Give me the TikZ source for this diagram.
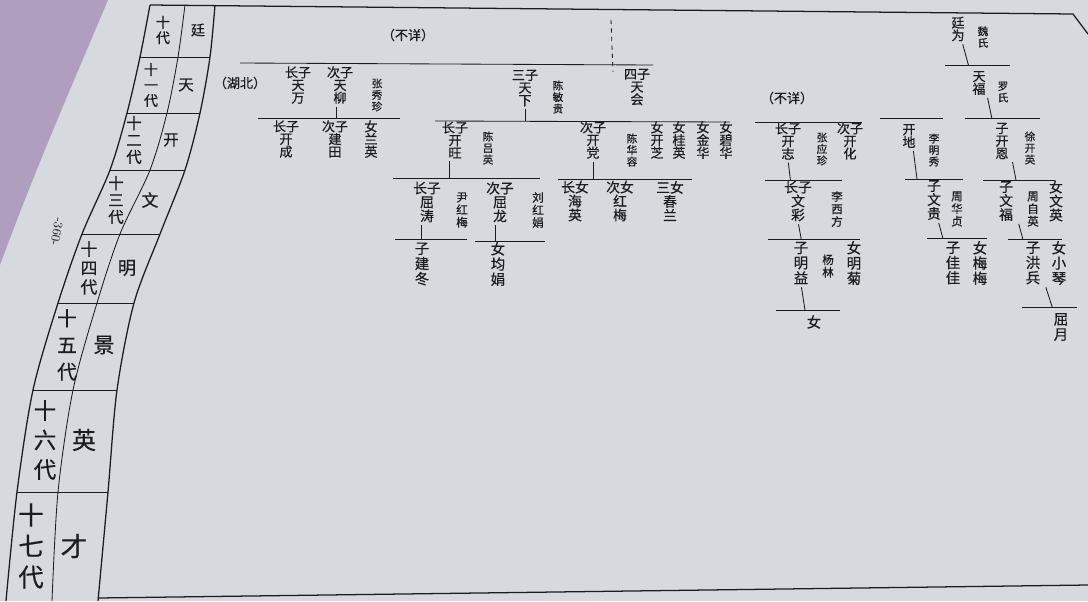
\documentclass[tikz,border=0pt]{standalone}
\usepackage{fontspec}
\newfontfamily\cjk[FakeBold=0.5]{Noto Sans CJK SC}
\usetikzlibrary{positioning, calc}
\definecolor{paper}{RGB}{214,217,221}
\definecolor{cloth}{RGB}{176,158,190}
\definecolor{ink}{RGB}{28,28,30}

\begin{document}
\begin{tikzpicture}[
                x=0.025cm, y=-0.025cm,
                text=ink,
                nm/.style={align=center, inner sep=0pt, font=\cjk\fontsize{9.3}{9}\selectfont},
                nmb/.style={align=center, inner sep=0pt, font=\cjk\fontsize{9.8}{9.9}\selectfont},
                nmc/.style={align=center, inner sep=0pt, font=\cjk\fontsize{10.3}{10.8}\selectfont},
                sp/.style={align=center, inner sep=0pt, font=\cjk\fontsize{7.6}{8.2}\selectfont},
                spb/.style={align=center, inner sep=0pt, font=\cjk\fontsize{8.2}{8.9}\selectfont},
                gen/.style 2 args={align=center, inner sep=0pt, font=\cjk\fontsize{#1}{#2}\selectfont},
                bar/.style={draw=ink, line width=0.6pt},
                tick/.style={draw=ink, line width=0.6pt, shorten <=2pt},
                rule/.style={draw=ink, line width=0.9pt}
            ]

            % Page and background
            \fill[paper] (0,0) rectangle (1088,601);
            \useasboundingbox (0,0) rectangle (1088,601);
            \fill[cloth] (0,0) -- (108,0) .. controls (70,90) and (35,170) .. (0,265) -- cycle;

            % Generation table
            \draw[rule] plot[smooth] coordinates {(150,5) (140,57) (127,113) (110,170) (82,234) (58,303) (33,390) (17,492) (6,601)};
            \draw[bar] plot[smooth] coordinates {(185,5) (178,57) (167,113) (150,170) (120,234) (97,303) (73,390) (58,492) (52,601)};
            \draw[rule] plot[smooth] coordinates {(215,5) (210,57) (200,113) (185,170) (160,234) (134,303) (117,390) (108,492) (98,601)};
            \foreach \xl/\xr/\y in {140/210/57, 127/200/113, 110/185/170, 82/160/234, 58/134/303, 33/117/390, 17/108/492}
                \draw[bar] (\xl,\y) -- (\xr,\y);

            \node[gen={10}{11}] (g10) at (163,30) {十\\代};
            \node[gen={10}{11}] (n10) at (198,30) {廷};
            \node[gen={10}{11}] (g11) at (151,85) {十\\一\\代};
            \node[gen={11}{12}] (n11) at (186,85) {天};
            \node[gen={11}{12}] (g12) at (134,140) {十\\二\\代};
            \node[gen={11}{12}] (n12) at (171,140) {开};
            \node[gen={11}{12}] (g13) at (116,200) {十\\三\\代};
            \node[gen={12}{13}] (n13) at (150,200) {文};
            \node[gen={12}{13.5}] (g14) at (89,268) {十\\四\\代};
            \node[gen={13}{14}] (n14) at (127,268) {明};
            \node[gen={14}{19}] (g15) at (67,345) {十\\五\\代};
            \node[gen={15}{16}] (n15) at (104,345) {景};
            \node[gen={16}{21}] (g16) at (45,440) {十\\六\\代};
            \node[gen={17}{18}] (n16) at (84,440) {英};
            \node[gen={18}{22}] (g17) at (31,546) {十\\七\\代};
            \node[gen={19}{20}] (n17) at (74,546) {才};

            \node[rotate=-100, inner sep=0pt, font=\rmfamily\fontsize{9}{9}\selectfont] (pageno) at (57,232) {-360-};

            % Page rules
            \draw[rule] (150,5) -- (1073,14) -- (1088,34);
            \draw[rule] (98,598) -- (1088,585);

            % Left branch
            \node[nm] (buxiangA) at (408,35) {（不详）};
            \coordinate (top-a) at (611,20);
            \coordinate (top-b) at (613,72);
            \draw[bar, dashed] (top-a) -- (top-b);
            \coordinate (barA-l) at (240,63);
            \coordinate (barA-r) at (653,65);
            \draw[bar] (barA-l) -- (barA-r);

            \node[nm] (hubei) at (240,83) {（湖北）};
            \node[nm] (tianwan) at (298,85) {长子\\天\\万};
            \node[nm] (tianliu) at (340,85) {次子\\天\\柳};
            \node[sp] (zhangxz) at (377,95) {张\\秀\\珍};
            \node[nm] (tianxia) at (525,88) {三子\\天\\下};
            \node[sp] (chenmg) at (558,97) {陈\\敏\\贵};
            \node[nm] (tianhui) at (637,87) {四子\\天\\会};

            \coordinate (barB-l) at (258,118);
            \coordinate (barB-r) at (400,118);
            \draw[bar] (barB-l) -- (barB-r);
            \draw[tick] ([xshift=-1mm]tianliu.south) -- ([xshift=-1mm]tianliu.south |- barB-l);
            \node[nm] (kaicheng) at (286,139) {长子\\开\\成};
            \node[nm] (jiantian) at (335,139) {次子\\建\\田};
            \node[nm] (lanying) at (371,139) {女\\兰\\英};

            \coordinate (barC-l) at (435,121);
            \coordinate (barC-r) at (730,122);
            \draw[bar] (barC-l) -- (barC-r);
            \draw[tick] (tianxia.south) -- (tianxia.south |- barC-l);
            \node[nm] (kaiwang) at (455,140) {长子\\开\\旺};
            \node[sp] (chenly) at (488,148) {陈\\吕\\英};
            \node[nm] (kaidang) at (593,140) {次子\\开\\党};
            \node[sp] (chenhr) at (632,150) {陈\\华\\容};
            \node[nm] (kaizhiD) at (657,140) {女\\开\\芝};
            \node[nm] (guiying) at (679,140) {女\\桂\\英};
            \node[nm] (jinhua) at (703,140) {女\\金\\华};
            \node[nm] (bihua) at (726,140) {女\\碧\\华};

            \coordinate (barD-l) at (393,178);
            \coordinate (barD-r) at (540,178);
            \draw[bar] (barD-l) -- (barD-r);
            \draw[tick] ([xshift=-1.5mm]kaiwang.south) -- ([xshift=-1.5mm]kaiwang.south |- barD-l);
            \node[nmb] (qutao) at (427,202) {长子\\屈\\涛};
            \node[spb] (yinhm) at (462,210) {尹\\红\\梅};
            \node[nmb] (qulong) at (500,202) {次子\\屈\\龙};
            \node[spb] (liuhj) at (538,210) {刘\\红\\娟};

            \coordinate (barE-l) at (558,179);
            \coordinate (barE-r) at (692,179);
            \draw[bar] (barE-l) -- (barE-r);
            \draw[tick] (kaidang.south) -- (kaidang.south |- barE-l);
            \node[nmb] (haiying) at (575,201) {长女\\海\\英};
            \node[nmb] (hongmei) at (620,201) {次女\\红\\梅};
            \node[nmb] (chunlan) at (670,201) {三女\\春\\兰};

            \coordinate (barF-l) at (395,239);
            \coordinate (barF-r) at (467,239);
            \draw[bar] (barF-l) -- (barF-r);
            \draw[tick] ([xshift=-1.5mm]qutao.south) -- ([xshift=-1.5mm]qutao.south |- barF-l);
            \node[nmc] (jiandong) at (422,264) {子\\建\\冬};

            \coordinate (barG-l) at (475,241);
            \coordinate (barG-r) at (545,241);
            \draw[bar] (barG-l) -- (barG-r);
            \draw[tick] ([xshift=-1.2mm]qulong.south) -- ([xshift=-1.2mm]qulong.south |- barG-l);
            \node[nmc] (junjuan) at (498,264) {女\\均\\娟};

            % Right branches
            \node[nm] (buxiangB) at (787,98) {（不详）};
            \coordinate (barH-l) at (755,122);
            \coordinate (barH-r) at (862,122);
            \draw[bar] (barH-l) -- (barH-r);
            \node[nm] (kaizhi) at (788,141) {长子\\开\\志};
            \node[sp] (zhangyz) at (822,149) {张\\应\\珍};
            \node[nm] (kaihua) at (850,141) {次子\\开\\化};

            \coordinate (barI-l) at (765,180);
            \coordinate (barI-r) at (842,180);
            \draw[bar] (barI-l) -- (barI-r);
            \draw[tick] (kaizhi.south) -- ([xshift=0.6mm]kaizhi.south |- barI-l);
            \node[nmb] (wencai) at (798,201) {长子\\文\\彩};
            \node[spb] (lixf) at (837,209) {李\\西\\方};

            \coordinate (barJ-l) at (768,239);
            \coordinate (barJ-r) at (860,239);
            \draw[bar] (barJ-l) -- (barJ-r);
            \draw[tick] (wencai.south) -- ([xshift=0.8mm]wencai.south |- barJ-l);
            \node[nmc] (mingyi) at (801,263) {子\\明\\益};
            \node[spb] (yanglin) at (828,266) {杨\\林};
            \node[nmc] (mingju) at (854,263) {女\\明\\菊};

            \coordinate (barK-l) at (776,310);
            \coordinate (barK-r) at (840,310);
            \draw[bar] (barK-l) -- (barK-r);
            \draw[tick] (mingyi.south) -- ([xshift=1mm]mingyi.south |- barK-l);
            \node[nmc] (nvA) at (814,322) {女};

            \coordinate (barL-l) at (880,118);
            \coordinate (barL-r) at (943,118);
            \draw[bar] (barL-l) -- (barL-r);
            \node[nm] (kaidi) at (909,136) {开\\地};
            \node[sp] (limx) at (934,150) {李\\明\\秀};

            \coordinate (barM-l) at (905,179);
            \coordinate (barM-r) at (963,179);
            \draw[bar] (barM-l) -- (barM-r);
            \draw[tick] ([xshift=1mm]kaidi.south) -- ([xshift=2mm]kaidi.south |- barM-l);
            \node[nmb] (wengui) at (934,200) {子\\文\\贵};
            \node[spb] (zhouhz) at (957,209) {周\\华\\贞};

            \coordinate (barN-l) at (927,238);
            \coordinate (barN-r) at (987,238);
            \draw[bar] (barN-l) -- (barN-r);
            \draw[tick] ([xshift=1mm]wengui.south) -- ([xshift=2.2mm]wengui.south |- barN-l);
            \node[nmc] (jiajia) at (953,263) {子\\佳\\佳};
            \node[nmc] (meimei) at (980,263) {女\\梅\\梅};

            \node[nm] (tingwei) at (958,29) {廷\\为};
            \node[sp] (weishi) at (983,37) {魏\\氏};
            \coordinate (barO-l) at (945,65);
            \coordinate (barO-r) at (1010,65);
            \draw[bar] (barO-l) -- (barO-r);
            \draw[tick] ([xshift=1mm]tingwei.south) -- ([xshift=2.6mm]tingwei.south |- barO-l);
            \node[nm] (tianfu) at (979,83) {天\\福};
            \node[sp] (luoshi) at (1003,92) {罗\\氏};

            \coordinate (barP-l) at (965,118);
            \coordinate (barP-r) at (1040,118);
            \draw[bar] (barP-l) -- (barP-r);
            \draw[tick] ([xshift=2mm]tianfu.south) -- ([xshift=3.2mm]tianfu.south |- barP-l);
            \node[nm] (kaien) at (1002,141) {子\\开\\恩};
            \node[sp] (xuky) at (1030,148) {徐\\开\\英};

            \coordinate (barQ-l) at (983,180);
            \coordinate (barQ-r) at (1055,180);
            \draw[bar] (barQ-l) -- (barQ-r);
            \draw[tick] ([xshift=2.5mm]kaien.south) -- ([xshift=3.5mm]kaien.south |- barQ-l);
            \node[nmb] (wenfu) at (1006,201) {子\\文\\福};
            \node[spb] (zhouzy) at (1033,209) {周\\自\\英};
            \node[nmb] (wenying) at (1056,201) {女\\文\\英};

            \coordinate (barR-l) at (1008,239);
            \coordinate (barR-r) at (1062,239);
            \draw[bar] (barR-l) -- (barR-r);
            \draw[tick] ([xshift=3mm]wenfu.south) -- ([xshift=4.2mm]wenfu.south |- barR-l);
            \node[nmc] (hongbing) at (1033,263) {子\\洪\\兵};
            \node[nmc] (xiaoqin) at (1059,263) {女\\小\\琴};

            \coordinate (barS-l) at (1022,307);
            \coordinate (barS-r) at (1077,307);
            \draw[bar] (barS-l) -- (barS-r);
            \draw[tick] ([xshift=3mm]hongbing.south) -- ([xshift=4.8mm]hongbing.south |- barS-l);
            \node[nmc] (quyue) at (1061,327) {屈\\月};

        \end{tikzpicture}
\end{document}
